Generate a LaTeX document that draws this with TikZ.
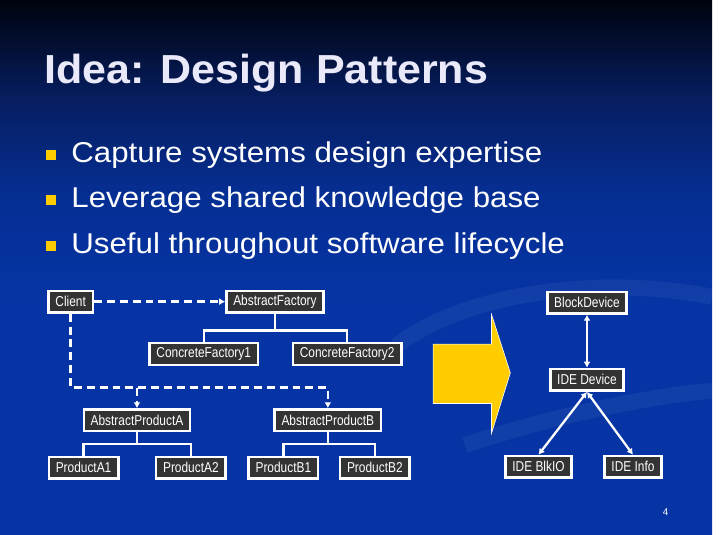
\documentclass[tikz,border=0pt]{standalone}
\usepackage{fontspec}
\setmainfont{Liberation Sans}
\newfontfamily\titlefont[FakeStretch=1.06]{Liberation Sans}
\newfontfamily\bulletfont[FakeStretch=1.09]{Liberation Sans}
\newfontfamily\classfont[FakeStretch=0.83]{Liberation Sans}
\usepackage{tikz}
\usetikzlibrary{arrows.meta}

\definecolor{bgtop}{HTML}{00030E}
\definecolor{bgmid}{HTML}{061D5E}
\definecolor{bgbot}{HTML}{0634A4}
\definecolor{classgray}{HTML}{333333}
\definecolor{padyellow}{HTML}{FFCC00}
\definecolor{titlewhite}{HTML}{E9E9FA}
% path box runs from 25bp (bottom) to 75bp (top)
\pgfdeclareverticalshading{slidebg}{100bp}{color(0bp)=(bgbot); color(47bp)=(bgbot); color(57bp)=(bgbot!75!bgmid); color(66bp)=(bgmid); color(75bp)=(bgtop); color(100bp)=(bgtop)}

\begin{document}
\begin{tikzpicture}[x=1pt, y=-1pt,
    >={Latex[length=6pt,width=7pt]},
    classbox/.style = {draw=white, line width=2.5pt, fill=classgray, text=white,
      font=\classfont\fontsize{14.5}{16}\selectfont, inner xsep=7pt, inner ysep=0pt,
      minimum height=22pt},
    tree/.style = {draw=white, line width=2.5pt},
    dep/.style = {draw=white, line width=2.5pt, dash pattern=on 8pt off 5pt},
    link/.style = {draw=white, line width=2.3pt, {<[length=6pt,width=7pt]}-{>[length=6pt,width=7pt]}},
    swoosh/.style = {draw=white, line width=16pt, opacity=0.05},
    pad/.style = {fill=padyellow, minimum size=10pt, inner sep=0pt},
    point/.style = {text=white, anchor=base west, inner sep=0pt,
      font=\bulletfont\fontsize{29}{34}\selectfont}]

    % slide background
    \shade[shading=slidebg] (0,0) rectangle (720,540);
    \draw[swoosh] (400,350) .. controls (480,290) and (620,280) .. (720,300);
    \draw[swoosh] (470,450) .. controls (560,420) and (660,400) .. (720,395);

    \node[text=titlewhite, anchor=base west, inner sep=0pt,
      font=\titlefont\bfseries\fontsize{41}{46}\selectfont] (title) at (45,84) {Idea: Design Patterns};

    \node[pad] (pad1) at (51.5,156.5) {};
    \node[point] (point1) at (72,164) {Capture systems design expertise};
    \node[pad] (pad2) at (51.5,202.5) {};
    \node[point] (point2) at (72,210) {Leverage shared knowledge base};
    \node[pad] (pad3) at (51.5,248.5) {};
    \node[point] (point3) at (72,256) {Useful throughout software lifecycle};

    % abstract factory
    \node[classbox] (client) at (71.5,305) {Client};
    \node[classbox] (absfact) at (278,305) {AbstractFactory};
    \node[classbox] (conc1) at (206,358) {ConcreteFactory1};
    \node[classbox] (conc2) at (351,358) {ConcreteFactory2};
    \node[classbox] (absA) at (138.5,425) {AbstractProductA};
    \node[classbox] (absB) at (331.5,425) {AbstractProductB};
    \node[classbox] (prodA1) at (84.5,473) {ProductA1};
    \node[classbox] (prodA2) at (193,473) {ProductA2};
    \node[classbox] (prodB1) at (286.5,473) {ProductB1};
    \node[classbox] (prodB2) at (379,473) {ProductB2};

    \coordinate (fjoin) at (278,334);
    \coordinate (ajoin) at (138.5,449);
    \coordinate (bjoin) at (331.5,449);
    \coordinate (dbus) at (71.5,392);
    \coordinate (dsplit) at (138.5,392);

    \draw[tree] (absfact) -- (fjoin);
    \draw[tree] (fjoin) -| (conc1);
    \draw[tree] (fjoin) -| (conc2);
    \draw[tree] (absA) -- (ajoin);
    \draw[tree] (ajoin) -| (prodA1);
    \draw[tree] (ajoin) -| (prodA2);
    \draw[tree] (absB) -- (bjoin);
    \draw[tree] (bjoin) -| (prodB1);
    \draw[tree] (bjoin) -| (prodB2);

    \draw[dep,->] (client) -- (absfact);
    \draw[dep,->] (client) -- (dbus) -| (absB);
    \draw[dep,->] (dsplit) -- (absA);

    % arrow over to the driver
    \filldraw[fill=padyellow, draw=white, line width=0.6pt]
      (438,348) -- (497,348) -- (497,318) -- (516,377) -- (497,438) -- (497,408) -- (438,408) -- cycle;

    % IDE driver
    \node[classbox] (blockdev) at (593.5,306) {BlockDevice};
    \node[classbox] (idedev) at (593.5,384) {IDE Device};
    \node[classbox] (ideblk) at (544.5,472) {IDE BlkIO};
    \node[classbox] (ideinfo) at (640,472) {IDE Info};

    \draw[link] (blockdev) -- (idedev);
    \draw[link] (idedev.south) -- (ideblk.north);
    \draw[link] (idedev.south) -- (ideinfo.north);

    \node[text=white, font=\fontsize{10}{12}\selectfont] (pagenum) at (673,518) {4};
\end{tikzpicture}
\end{document}
